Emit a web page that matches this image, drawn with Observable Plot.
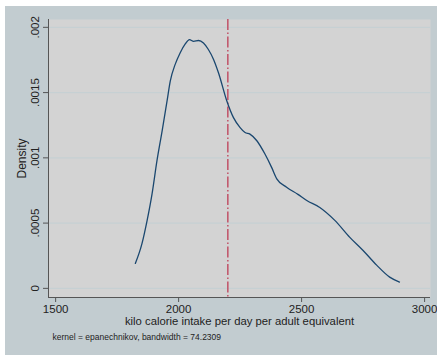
<!DOCTYPE html>
<html>
<head>
<meta charset="utf-8">
<script src="https://cdn.jsdelivr.net/npm/d3@7"></script>
<script src="https://cdn.jsdelivr.net/npm/@observablehq/plot@0.6"></script>
<style>
  html, body { margin: 0; padding: 0; background: #ffffff; }
  #wrap { padding-left: 5px; padding-top: 6px; width: 432px; height: 349px; }
  svg { display: block; }
</style>
</head>
<body>
<div id="wrap"></div>
<script>
// Kernel density estimate
const kcal = [1824, 1851, 1872, 1892, 1912, 1933, 1953, 1966, 1986, 2006, 2027, 2044, 2061, 2081, 2101, 2121, 2142, 2162, 2196, 2223, 2250, 2270, 2290, 2318, 2351, 2378, 2399, 2439, 2485, 2521, 2574, 2635, 2696, 2749, 2805, 2858, 2898];
const density = [0.000191, 0.000343, 0.000521, 0.000724, 0.000978, 0.001207, 0.001436, 0.001588, 0.001716, 0.001804, 0.001873, 0.001906, 0.001893, 0.001899, 0.00188, 0.00183, 0.001754, 0.001652, 0.001436, 0.001308, 0.001232, 0.001194, 0.001182, 0.001131, 0.001029, 0.000927, 0.000839, 0.000775, 0.00072, 0.000673, 0.00062, 0.000521, 0.000391, 0.000292, 0.000178, 0.000086, 0.000048];
const refLine = [2200];
const xTicks = [1500, 2000, 2500, 3000];
const yTicks = [0, 0.0005, 0.001, 0.0015, 0.002];
const yTickLabels = ["0", ".0005", ".001", ".0015", ".002"];
const xDomain = [1471, 3024];
const yDomain = [-0.00007, 0.00206];
const xTitle = "kilo calorie intake per day per adult equivalent";
const yTitle = "Density";
const note = "kernel = epanechnikov, bandwidth = 74.2309";

const data = kcal.map((k, i) => ({kcal: k, density: density[i]}));
const font = "'Liberation Sans', Arial, sans-serif";
const axisColor = "#555555";

const chart = Plot.plot({
  width: 432,
  height: 349,
  marginLeft: 43,
  marginRight: 7,
  marginTop: 13,
  marginBottom: 58,
  style: {background: "#c2ccd0", fontFamily: font, color: "#222"},
  x: {domain: xDomain},
  y: {domain: yDomain},
  marks: [
    Plot.frame({fill: "#d3d3d3", stroke: null}),
    Plot.gridY(yTicks, {stroke: "#c6d0d3", strokeOpacity: 1, strokeWidth: 1.2}),
    Plot.ruleX(refLine, {stroke: "#c25a6e", strokeWidth: 1.6, strokeDasharray: "11,2.5,1.5,2.5"}),
    Plot.line(data, {x: "kcal", y: "density", stroke: "#1a476f", strokeWidth: 1.3, curve: "monotone-x"}),
    Plot.ruleX([xDomain[0]], {stroke: axisColor, strokeWidth: 1}),
    Plot.ruleY([yDomain[0]], {stroke: axisColor, strokeWidth: 1}),
    Plot.axisX({ticks: xTicks, tickSize: 5, tickPadding: 2, stroke: axisColor, fontSize: 11.5, label: null, tickFormat: d => String(d)}),
    Plot.axisY({ticks: yTicks, tickSize: 5, stroke: axisColor, label: null, tickFormat: () => ""}),
    Plot.text(yTicks, {y: d => d, text: (d, i) => yTickLabels[i], frameAnchor: "left", dx: -13, rotate: -90, fontSize: 11.5, textAnchor: "middle", fill: "#222"}),
    Plot.text([yTitle], {text: d => d, frameAnchor: "left", dx: -26, rotate: -90, fontSize: 12, textAnchor: "middle", fill: "#222"}),
    Plot.text([xTitle], {text: d => d, frameAnchor: "bottom", dy: 27, fontSize: 11.3, fill: "#222"}),
    Plot.text([note], {text: d => d, frameAnchor: "bottom-left", dx: 4, dy: 42, fontSize: 8.5, textAnchor: "start", fill: "#222"})
  ]
});
document.getElementById("wrap").appendChild(chart);
</script>
</body>
</html>
